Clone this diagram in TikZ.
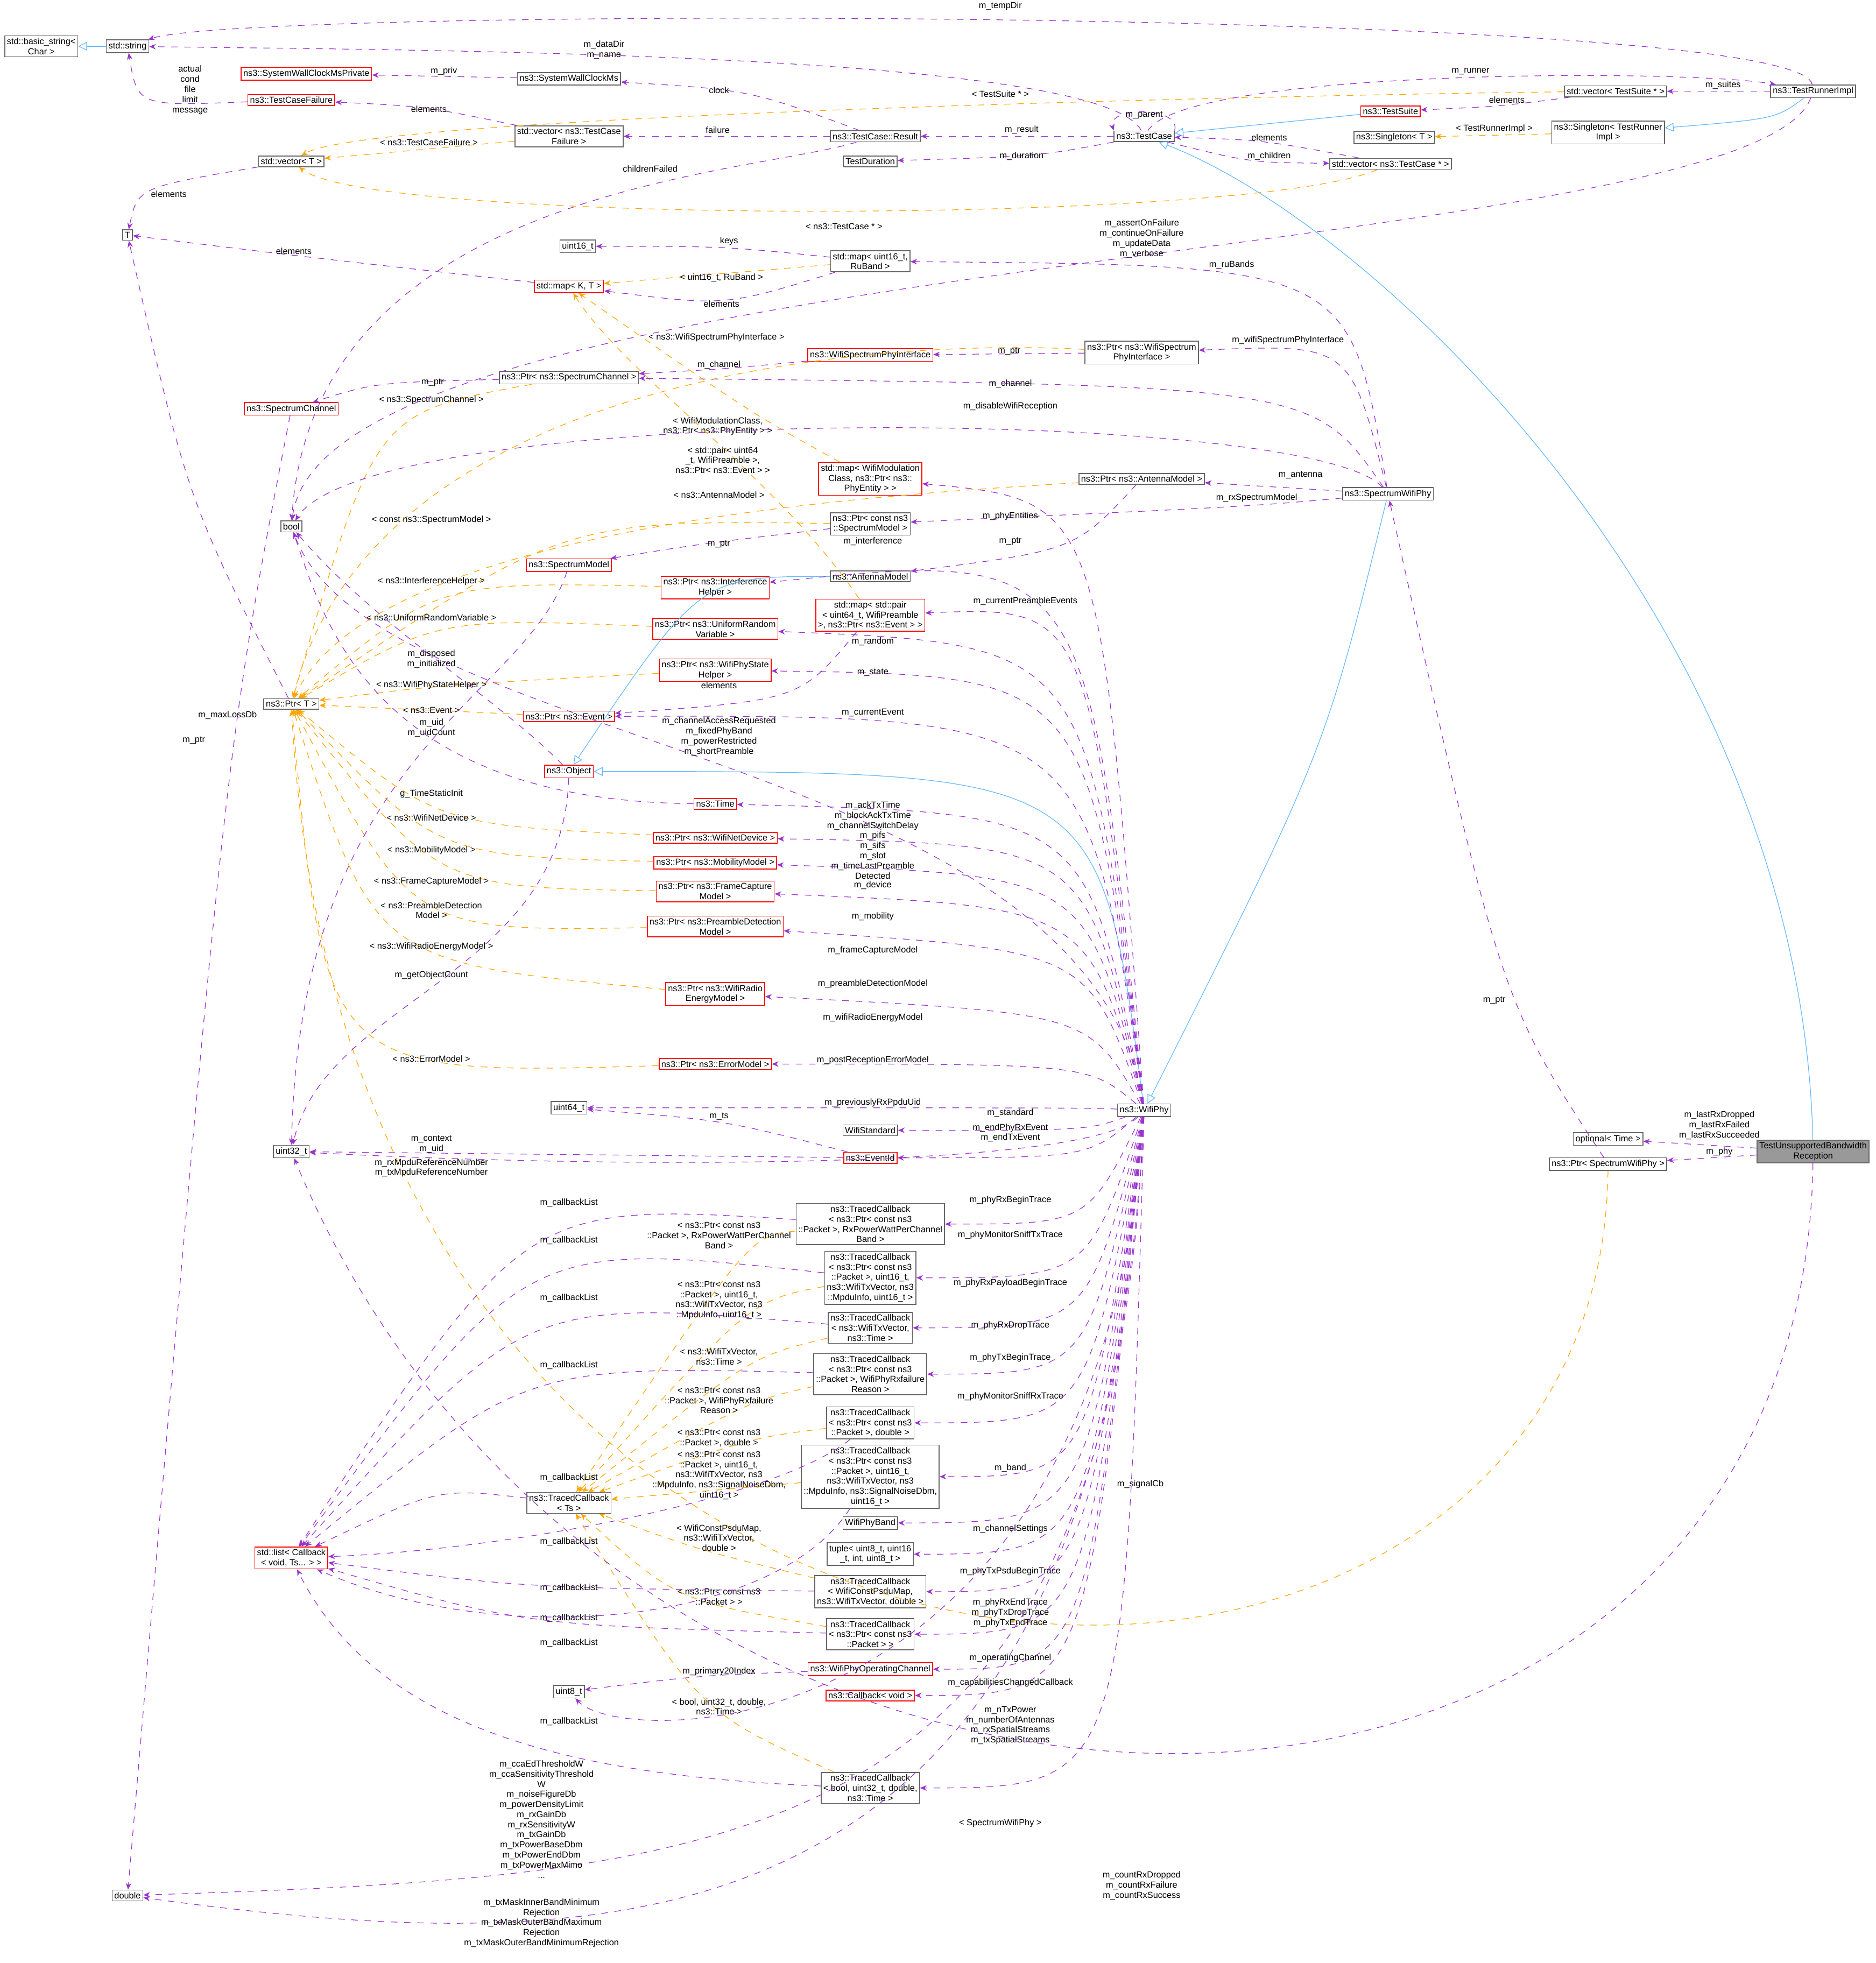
\documentclass[tikz,border=0pt]{standalone}
\usepackage{fontspec}
\setmainfont{Liberation Sans}
\usetikzlibrary{arrows.meta}
\definecolor{memcol}{HTML}{9A32CD}
\definecolor{inhcol}{HTML}{63B8FF}
\definecolor{tplcol}{HTML}{FFA500}
\begin{document}
\begin{tikzpicture}
    [%%%%%%%%%%%%%%%%%%%%%%%%%%%%%%
        x=0.02cm, y=-0.02cm,
        box/.style={rectangle,draw=black!60,fill=white,inner sep=1pt,align=center,font=\fontsize{4}{4.6}\selectfont},
        redbox/.style={box,draw=red},
        lbl/.style={inner sep=0.3pt,align=center,font=\fontsize{4}{4.6}\selectfont},
        mem/.style={draw=memcol,dashed,line width=0.3pt,-{Stealth[length=3pt,width=2.5pt]}},
        inh/.style={draw=inhcol,line width=0.3pt,-{Triangle[open,length=4pt,width=4pt]}},
        tpl/.style={draw=tplcol,dashed,line width=0.3pt,-{Stealth[length=3pt,width=2.5pt]}},
    ]%%%%%%%%%%%%%%%%%%%%%%%%%%%%%%
\useasboundingbox (0,0) rectangle (1500,1570);
% nodes
\node[box] (bstr) at (33,37) {std::basic\_string<\\Char >};
\node[box] (stdstring) at (102,37) {std::string};
\node[redbox] (sysclkpriv) at (245,59) {ns3::SystemWallClockMsPrivate};
\node[box] (sysclk) at (455,63) {ns3::SystemWallClockMs};
\node[redbox] (tcfail) at (233,80) {ns3::TestCaseFailure};
\node[box] (vecfail) at (455,109) {std::vector< ns3::TestCase\\Failure >};
\node[box] (vecT) at (233,129) {std::vector< T >};
\node[box] (tcresult) at (700,109) {ns3::TestCase::Result};
\node[box] (testduration) at (696,129) {TestDuration};
\node[box] (testcase) at (915,109) {ns3::TestCase};
\node[box] (vecsuite) at (1292,73) {std::vector< TestSuite * >};
\node[redbox] (testsuite) at (1112,89) {ns3::TestSuite};
\node[box] (singT) at (1115,110) {ns3::Singleton< T >};
\node[box] (singRunner) at (1286,106) {ns3::Singleton< TestRunner\\Impl >};
\node[box] (vecTC) at (1112,131) {std::vector< ns3::TestCase * >};
\node[box] (runnerimpl) at (1450,73) {ns3::TestRunnerImpl};
\node[box] (T) at (102,188) {T};
\node[box] (uint16) at (462,197) {uint16\_t};
\node[box] (mapRu) at (696,209) {std::map< uint16\_t,\\ RuBand >};
\node[redbox] (mapKT) at (455,229) {std::map< K, T >};
\node[box] (ptrWSPI) at (913,282) {ns3::Ptr< ns3::WifiSpectrum\\PhyInterface >};
\node[redbox] (wspi) at (696,284) {ns3::WifiSpectrumPhyInterface};
\node[box] (ptrSC) at (455,302) {ns3::Ptr< ns3::SpectrumChannel >};
\node[redbox] (spectrumChannel) at (233,327) {ns3::SpectrumChannel};
\node[box] (bool) at (233,421) {bool};
\node[redbox] (mapMod) at (696,383) {std::map< WifiModulation\\Class, ns3::Ptr< ns3::\\PhyEntity > >};
\node[box] (ptrAM) at (913,383) {ns3::Ptr< ns3::AntennaModel >};
\node[box] (swphy) at (1110,395) {ns3::SpectrumWifiPhy};
\node[box] (ptrSM) at (696,419) {ns3::Ptr< const ns3\\::SpectrumModel >};
\node[redbox] (sm) at (455,452) {ns3::SpectrumModel};
\node[redbox] (ptrIH) at (572,470) {ns3::Ptr< ns3::Interference\\Helper >};
\node[box] (am) at (696,461) {ns3::AntennaModel};
\node[redbox] (mapPair) at (696,492) {std::map< std::pair\\< uint64\_t, WifiPreamble\\>, ns3::Ptr< ns3::Event > >};
\node[redbox] (ptrURV) at (572,503) {ns3::Ptr< ns3::UniformRandom\\Variable >};
\node[redbox] (ptrWSH) at (572,536) {ns3::Ptr< ns3::WifiPhyState\\Helper >};
\node[box] (ptrT) at (233,563) {ns3::Ptr< T >};
\node[redbox] (ptrEvent) at (455,573) {ns3::Ptr< ns3::Event >};
\node[redbox] (object) at (455,617) {ns3::Object};
\node[redbox] (time) at (572,643) {ns3::Time};
\node[redbox] (ptrND) at (572,670) {ns3::Ptr< ns3::WifiNetDevice >};
\node[redbox] (ptrMM) at (572,690) {ns3::Ptr< ns3::MobilityModel >};
\node[redbox] (ptrFCM) at (572,713) {ns3::Ptr< ns3::FrameCapture\\Model >};
\node[redbox] (ptrPDM) at (572,741) {ns3::Ptr< ns3::PreambleDetection\\Model >};
\node[redbox] (ptrREM) at (572,795) {ns3::Ptr< ns3::WifiRadio\\EnergyModel >};
\node[redbox] (ptrEM) at (572,851) {ns3::Ptr< ns3::ErrorModel >};
\node[box] (wifiphy) at (915,888) {ns3::WifiPhy};
\node[box] (uint64) at (455,886) {uint64\_t};
\node[box] (wstd) at (696,904) {WifiStandard};
\node[redbox] (eventid) at (696,926) {ns3::EventId};
\node[box] (uint32) at (233,921) {uint32\_t};
\node[box] (tc1) at (696,979) {ns3::TracedCallback\\< ns3::Ptr< const ns3\\::Packet >, RxPowerWattPerChannel\\Band >};
\node[box] (tc2) at (696,1022) {ns3::TracedCallback\\< ns3::Ptr< const ns3\\::Packet >, uint16\_t,\\ ns3::WifiTxVector, ns3\\::MpduInfo, uint16\_t >};
\node[box] (tc3) at (696,1062) {ns3::TracedCallback\\< ns3::WifiTxVector,\\ ns3::Time >};
\node[box] (tc4) at (696,1099) {ns3::TracedCallback\\< ns3::Ptr< const ns3\\::Packet >, WifiPhyRxfailure\\Reason >};
\node[box] (tc5) at (696,1138) {ns3::TracedCallback\\< ns3::Ptr< const ns3\\::Packet >, double >};
\node[box] (tc6) at (696,1181) {ns3::TracedCallback\\< ns3::Ptr< const ns3\\::Packet >, uint16\_t,\\ ns3::WifiTxVector, ns3\\::MpduInfo, ns3::SignalNoiseDbm,\\ uint16\_t >};
\node[box] (wband) at (696,1218) {WifiPhyBand};
\node[box] (tuple) at (696,1243) {tuple< uint8\_t, uint16\\\_t, int, uint8\_t >};
\node[box] (tc7) at (696,1273) {ns3::TracedCallback\\< WifiConstPsduMap,\\ ns3::WifiTxVector, double >};
\node[box] (tc8) at (696,1307) {ns3::TracedCallback\\< ns3::Ptr< const ns3\\::Packet > >};
\node[box] (tcTs) at (455,1202) {ns3::TracedCallback\\< Ts >};
\node[redbox] (list) at (233,1246) {std::list< Callback\\< void, Ts... > >};
\node[redbox] (wpoc) at (696,1335) {ns3::WifiPhyOperatingChannel};
\node[box] (uint8) at (455,1353) {uint8\_t};
\node[redbox] (cbvoid) at (696,1356) {ns3::Callback< void >};
\node[box] (tc9) at (696,1430) {ns3::TracedCallback\\< bool, uint32\_t, double,\\ ns3::Time >};
\node[box] (double) at (102,1516) {double};
\node[box] (optTime) at (1286,911) {optional< Time >};
\node[box] (ptrSWP) at (1286,931) {ns3::Ptr< SpectrumWifiPhy >};
\node[box,fill=black!40] (main) at (1450,921) {TestUnsupportedBandwidth\\Reception};
% inheritance
\draw[inh] (stdstring) -- (bstr);
\draw[inh] (testsuite) -- (testcase);
\draw[inh] (runnerimpl) .. controls (1420,95) .. (singRunner);
\draw[inh] (main) .. controls (1440,500) and (1100,180) .. (testcase);
\draw[inh] (swphy) .. controls (1060,600) .. (wifiphy);
\draw[inh] (wifiphy) .. controls (880,617) .. (object);
\draw[inh] (am) .. controls (560,461) .. (object);
% templates
\draw[tpl] (vecsuite) .. controls (1100,75) and (300,90) .. (vecT) node[lbl,at={(800,75)}] {< TestSuite * >};
\draw[tpl] (vecfail) -- (vecT) node[lbl,at={(343,114)}] {< ns3::TestCaseFailure >};
\draw[tpl] (vecTC) .. controls (1000,180) and (300,180) .. (vecT) node[lbl,at={(675,181)}] {< ns3::TestCase * >};
\draw[tpl] (singRunner) -- (singT) node[lbl,at={(1195,103)}] {< TestRunnerImpl >};
\draw[tpl] (mapRu) -- (mapKT) node[lbl,at={(577,222)}] {< uint16\_t, RuBand >};
\draw[tpl] (mapMod) .. controls (600,330) .. (mapKT) node[lbl,at={(574,341)}] {< WifiModulationClass,\\ ns3::Ptr< ns3::PhyEntity > >};
\draw[tpl] (mapPair) .. controls (620,380) and (500,300) .. (mapKT) node[lbl,at={(578,368)}] {< std::pair< uint64\\\_t, WifiPreamble >,\\ ns3::Ptr< ns3::Event > >};
\draw[tpl] (ptrWSPI) .. controls (700,270) and (300,300) .. (ptrT) node[lbl,at={(573,270)}] {< ns3::WifiSpectrumPhyInterface >};
\draw[tpl] (ptrSC) .. controls (300,330) .. (ptrT) node[lbl,at={(345,320)}] {< ns3::SpectrumChannel >};
\draw[tpl] (ptrAM) .. controls (700,396) and (300,420) .. (ptrT) node[lbl,at={(575,396)}] {< ns3::AntennaModel >};
\draw[tpl] (ptrSM) .. controls (450,416) .. (ptrT) node[lbl,at={(345,416)}] {< const ns3::SpectrumModel >};
\draw[tpl] (ptrIH) .. controls (350,465) .. (ptrT) node[lbl,at={(345,465)}] {< ns3::InterferenceHelper >};
\draw[tpl] (ptrURV) .. controls (350,494) .. (ptrT) node[lbl,at={(345,494)}] {< ns3::UniformRandomVariable >};
\draw[tpl] (ptrWSH) .. controls (350,548) .. (ptrT) node[lbl,at={(345,548)}] {< ns3::WifiPhyStateHelper >};
\draw[tpl] (ptrEvent) -- (ptrT) node[lbl,at={(345,568)}] {< ns3::Event >};
\draw[tpl] (ptrND) .. controls (350,660) .. (ptrT) node[lbl,at={(345,654)}] {< ns3::WifiNetDevice >};
\draw[tpl] (ptrMM) .. controls (350,685) .. (ptrT) node[lbl,at={(345,680)}] {< ns3::MobilityModel >};
\draw[tpl] (ptrFCM) .. controls (350,710) .. (ptrT) node[lbl,at={(345,705)}] {< ns3::FrameCaptureModel >};
\draw[tpl] (ptrPDM) .. controls (330,745) .. (ptrT) node[lbl,at={(345,728)}] {< ns3::PreambleDetection\\Model >};
\draw[tpl] (ptrREM) .. controls (300,770) .. (ptrT) node[lbl,at={(345,757)}] {< ns3::WifiRadioEnergyModel >};
\draw[tpl] (ptrEM) .. controls (260,860) .. (ptrT) node[lbl,at={(345,847)}] {< ns3::ErrorModel >};
\draw[tpl] (ptrSWP) .. controls (1280,1470) and (280,1470) .. (ptrT) node[lbl,at={(800,1458)}] {< SpectrumWifiPhy >};
\draw[tpl] (tc1) .. controls (600,988) .. (tcTs) node[lbl,at={(575,988)}] {< ns3::Ptr< const ns3\\::Packet >, RxPowerWattPerChannel\\Band >};
\draw[tpl] (tc2) .. controls (600,1040) .. (tcTs) node[lbl,at={(575,1040)}] {< ns3::Ptr< const ns3\\::Packet >, uint16\_t,\\ ns3::WifiTxVector, ns3\\::MpduInfo, uint16\_t >};
\draw[tpl] (tc3) .. controls (600,1085) .. (tcTs) node[lbl,at={(575,1085)}] {< ns3::WifiTxVector,\\ ns3::Time >};
\draw[tpl] (tc4) .. controls (600,1120) .. (tcTs) node[lbl,at={(575,1120)}] {< ns3::Ptr< const ns3\\::Packet >, WifiPhyRxfailure\\Reason >};
\draw[tpl] (tc5) .. controls (600,1150) .. (tcTs) node[lbl,at={(575,1150)}] {< ns3::Ptr< const ns3\\::Packet >, double >};
\draw[tpl] (tc6) -- (tcTs) node[lbl,at={(575,1180)}] {< ns3::Ptr< const ns3\\::Packet >, uint16\_t,\\ ns3::WifiTxVector, ns3\\::MpduInfo, ns3::SignalNoiseDbm,\\ uint16\_t >};
\draw[tpl] (tc7) .. controls (560,1240) .. (tcTs) node[lbl,at={(575,1230)}] {< WifiConstPsduMap,\\ ns3::WifiTxVector,\\ double >};
\draw[tpl] (tc8) .. controls (540,1280) .. (tcTs) node[lbl,at={(575,1277)}] {< ns3::Ptr< const ns3\\::Packet > >};
\draw[tpl] (tc9) .. controls (560,1370) .. (tcTs) node[lbl,at={(575,1365)}] {< bool, uint32\_t, double,\\ ns3::Time >};
% members
\draw[mem] (runnerimpl) .. controls (1440,5) and (200,5) .. (stdstring) node[lbl,at={(800,5)}] {m\_tempDir};
\draw[mem] (testcase) .. controls (880,40) and (300,40) .. (stdstring) node[lbl,at={(483,40)}] {m\_dataDir\\m\_name};
\draw[mem] (testcase) .. controls (950,55) and (1350,55) .. (runnerimpl) node[lbl,at={(1176,57)}] {m\_runner};
\draw[mem] (runnerimpl) -- (vecsuite) node[lbl,at={(1378,68)}] {m\_suites};
\draw[mem] (vecsuite) .. controls (1200,85) .. (testsuite) node[lbl,at={(1205,80)}] {elements};
\draw[mem] (testcase.north east) .. controls (945,85) and (885,85) .. (testcase.north west) node[lbl,at={(915,92)}] {m\_parent};
\draw[mem] (testcase) -- (tcresult) node[lbl,at={(817,104)}] {m\_result};
\draw[mem] (testcase) .. controls (830,125) .. (testduration) node[lbl,at={(817,125)}] {m\_duration};
\draw[mem] (testcase) .. controls (1000,130) .. (vecTC) node[lbl,at={(1015,125)}] {m\_children};
\draw[mem] (vecTC) .. controls (1010,112) .. (testcase) node[lbl,at={(1015,110)}] {elements};
\draw[mem] (tcresult) .. controls (600,72) .. (sysclk) node[lbl,at={(575,72)}] {clock};
\draw[mem] (tcresult) -- (vecfail) node[lbl,at={(574,104)}] {failure};
\draw[mem] (tcresult) .. controls (600,140) and (250,150) .. (bool) node[lbl,at={(520,135)}] {childrenFailed};
\draw[mem] (sysclk) -- (sysclkpriv) node[lbl,at={(355,57)}] {m\_priv};
\draw[mem] (vecfail) .. controls (340,85) .. (tcfail) node[lbl,at={(343,87)}] {elements};
\draw[mem] (tcfail) .. controls (110,85) .. (stdstring) node[lbl,at={(152,72)}] {actual\\cond\\file\\limit\\message};
\draw[mem] (vecT) .. controls (110,150) .. (T) node[lbl,at={(135,155)}] {elements};
\draw[mem] (runnerimpl) .. controls (1400,210) and (260,200) .. (bool) node[lbl,at={(913,191)}] {m\_assertOnFailure\\m\_continueOnFailure\\m\_updateData\\m\_verbose};
\draw[mem] (mapRu) .. controls (580,197) .. (uint16) node[lbl,at={(583,193)}] {keys};
\draw[mem] (mapRu) .. controls (580,245) .. (mapKT) node[lbl,at={(577,243)}] {elements};
\draw[mem] (mapKT) .. controls (240,205) .. (T) node[lbl,at={(235,201)}] {elements};
\draw[mem] (swphy) .. controls (1080,212) .. (mapRu) node[lbl,at={(985,212)}] {m\_ruBands};
\draw[mem] (swphy) .. controls (1080,275) .. (ptrWSPI) node[lbl,at={(1030,272)}] {m\_wifiSpectrumPhyInterface};
\draw[mem] (ptrWSPI) -- (wspi) node[lbl,at={(807,281)}] {m\_ptr};
\draw[mem] (wspi) .. controls (580,295) .. (ptrSC) node[lbl,at={(575,292)}] {m\_channel};
\draw[mem] (swphy) .. controls (1050,308) .. (ptrSC) node[lbl,at={(808,307)}] {m\_channel};
\draw[mem] (ptrSC) .. controls (300,306) .. (spectrumChannel) node[lbl,at={(346,306)}] {m\_ptr};
\draw[mem] (swphy) .. controls (1050,325) and (300,320) .. (bool) node[lbl,at={(808,325)}] {m\_disableWifiReception};
\draw[mem] (swphy) -- (ptrAM) node[lbl,at={(1040,380)}] {m\_antenna};
\draw[mem] (swphy) .. controls (1000,405) .. (ptrSM) node[lbl,at={(1005,398)}] {m\_rxSpectrumModel};
\draw[mem] (ptrSM) .. controls (560,435) .. (sm) node[lbl,at={(575,435)}] {m\_ptr};
\draw[mem] (ptrAM) .. controls (860,440) .. (am) node[lbl,at={(808,433)}] {m\_ptr};
\draw[mem] (sm) .. controls (420,560) and (240,600) .. (uint32) node[lbl,at={(345,582)}] {m\_uid\\m\_uidCount};
\draw[mem] (object) .. controls (400,560) and (300,500) .. (bool) node[lbl,at={(345,527)}] {m\_disposed\\m\_initialized};
\draw[mem] (object) .. controls (450,780) and (260,800) .. (uint32) node[lbl,at={(345,780)}] {m\_getObjectCount};
\draw[mem] (ptrT) .. controls (150,400) .. (T) node[lbl,at={(155,592)}] {m\_ptr};
\draw[mem] (spectrumChannel) .. controls (180,600) .. (double) node[lbl,at={(182,572)}] {m\_maxLossDb};
\draw[mem] (time) .. controls (300,640) and (260,500) .. (bool) node[lbl,at={(345,635)}] {g\_TimeStaticInit};
\draw[mem] (mapPair) .. controls (640,560) .. (ptrEvent) node[lbl,at={(575,548)}] {elements};
\draw[mem] (wifiphy) .. controls (880,400) .. (mapMod) node[lbl,at={(808,413)}] {m\_phyEntities};
\draw[mem] (wifiphy) .. controls (870,440) .. (ptrIH) node[lbl,at={(698,433)}] {m\_interference};
\draw[mem] (wifiphy) .. controls (870,485) .. (mapPair) node[lbl,at={(820,481)}] {m\_currentPreambleEvents};
\draw[mem] (wifiphy) .. controls (870,515) .. (ptrURV) node[lbl,at={(698,513)}] {m\_random};
\draw[mem] (wifiphy) .. controls (870,540) .. (ptrWSH) node[lbl,at={(698,538)}] {m\_state};
\draw[mem] (wifiphy) .. controls (870,572) .. (ptrEvent) node[lbl,at={(698,570)}] {m\_currentEvent};
\draw[mem] (wifiphy) .. controls (870,600) and (300,600) .. (bool) node[lbl,at={(575,589)}] {m\_channelAccessRequested\\m\_fixedPhyBand\\m\_powerRestricted\\m\_shortPreamble};
\draw[mem] (wifiphy) .. controls (870,650) .. (time) node[lbl,at={(698,672)}] {m\_ackTxTime\\m\_blockAckTxTime\\m\_channelSwitchDelay\\m\_pifs\\m\_sifs\\m\_slot\\m\_timeLastPreamble\\Detected};
\draw[mem] (wifiphy) .. controls (870,675) .. (ptrND) node[lbl,at={(698,708)}] {m\_device};
\draw[mem] (wifiphy) .. controls (870,700) .. (ptrMM) node[lbl,at={(698,733)}] {m\_mobility};
\draw[mem] (wifiphy) .. controls (870,725) .. (ptrFCM) node[lbl,at={(698,760)}] {m\_frameCaptureModel};
\draw[mem] (wifiphy) .. controls (870,760) .. (ptrPDM) node[lbl,at={(698,787)}] {m\_preambleDetectionModel};
\draw[mem] (wifiphy) .. controls (870,810) .. (ptrREM) node[lbl,at={(698,814)}] {m\_wifiRadioEnergyModel};
\draw[mem] (wifiphy) .. controls (870,851) .. (ptrEM) node[lbl,at={(698,848)}] {m\_postReceptionErrorModel};
\draw[mem] (wifiphy) .. controls (870,886) .. (uint64) node[lbl,at={(698,882)}] {m\_previouslyRxPpduUid};
\draw[mem] (eventid) .. controls (580,896) .. (uint64) node[lbl,at={(575,893)}] {m\_ts};
\draw[mem] (wifiphy) .. controls (870,904) .. (wstd) node[lbl,at={(808,890)}] {m\_standard};
\draw[mem] (wifiphy) .. controls (870,926) .. (eventid) node[lbl,at={(808,906)}] {m\_endPhyRxEvent\\m\_endTxEvent};
\draw[mem] (eventid) -- (uint32) node[lbl,at={(345,915)}] {m\_context\\m\_uid};
\draw[mem] (wifiphy) .. controls (870,935) and (500,935) .. (uint32) node[lbl,at={(345,934)}] {m\_rxMpduReferenceNumber\\m\_txMpduReferenceNumber};
\draw[mem] (wifiphy) .. controls (870,979) .. (tc1) node[lbl,at={(808,960)}] {m\_phyRxBeginTrace};
\draw[mem] (wifiphy) .. controls (870,1022) .. (tc2) node[lbl,at={(808,988)}] {m\_phyMonitorSniffTxTrace};
\draw[mem] (wifiphy) .. controls (870,1062) .. (tc3) node[lbl,at={(808,1026)}] {m\_phyRxPayloadBeginTrace};
\draw[mem] (wifiphy) .. controls (870,1099) .. (tc4) node[lbl,at={(808,1060)}] {m\_phyRxDropTrace};
\draw[mem] (wifiphy) .. controls (870,1138) .. (tc5) node[lbl,at={(808,1086)}] {m\_phyTxBeginTrace};
\draw[mem] (wifiphy) .. controls (870,1181) .. (tc6) node[lbl,at={(808,1117)}] {m\_phyMonitorSniffRxTrace};
\draw[mem] (wifiphy) .. controls (870,1218) .. (wband) node[lbl,at={(808,1174)}] {m\_band};
\draw[mem] (wifiphy) .. controls (870,1243) .. (tuple) node[lbl,at={(808,1223)}] {m\_channelSettings};
\draw[mem] (wifiphy) .. controls (870,1273) .. (tc7) node[lbl,at={(808,1257)}] {m\_phyTxPsduBeginTrace};
\draw[mem] (wifiphy) .. controls (870,1307) .. (tc8) node[lbl,at={(808,1290)}] {m\_phyRxEndTrace\\m\_phyTxDropTrace\\m\_phyTxEndTrace};
\draw[mem] (wifiphy) .. controls (870,1335) .. (wpoc) node[lbl,at={(808,1326)}] {m\_operatingChannel};
\draw[mem] (wifiphy) .. controls (870,1356) .. (cbvoid) node[lbl,at={(808,1346)}] {m\_capabilitiesChangedCallback};
\draw[mem] (wifiphy) .. controls (880,1400) and (500,1400) .. (uint8) node[lbl,at={(808,1380)}] {m\_nTxPower\\m\_numberOfAntennas\\m\_rxSpatialStreams\\m\_txSpatialStreams};
\draw[mem] (wifiphy) .. controls (900,1430) .. (tc9) node[lbl,at={(912,1187)}] {m\_signalCb};
\draw[mem] (wpoc) .. controls (560,1340) .. (uint8) node[lbl,at={(575,1337)}] {m\_primary20Index};
\draw[mem] (wifiphy) .. controls (890,1480) and (600,1500) .. (double) node[lbl,at={(433,1455)}] {m\_ccaEdThresholdW\\m\_ccaSensitivityThreshold\\W\\m\_noiseFigureDb\\m\_powerDensityLimit\\m\_rxGainDb\\m\_rxSensitivityW\\m\_txGainDb\\m\_txPowerBaseDbm\\m\_txPowerEndDbm\\m\_txPowerMaxMimo\\...};
\draw[mem] (wifiphy) .. controls (880,1570) and (500,1570) .. (double) node[lbl,at={(433,1538)}] {m\_txMaskInnerBandMinimum\\Rejection\\m\_txMaskOuterBandMaximum\\Rejection\\m\_txMaskOuterBandMinimumRejection};
\draw[mem] (tc1) .. controls (420,962) .. (list) node[lbl,at={(455,962)}] {m\_callbackList};
\draw[mem] (tc2) .. controls (420,992) .. (list) node[lbl,at={(455,992)}] {m\_callbackList};
\draw[mem] (tc3) .. controls (420,1038) .. (list) node[lbl,at={(455,1038)}] {m\_callbackList};
\draw[mem] (tc4) .. controls (420,1092) .. (list) node[lbl,at={(455,1092)}] {m\_callbackList};
\draw[mem] (tcTs) .. controls (350,1190) .. (list) node[lbl,at={(455,1182)}] {m\_callbackList};
\draw[mem] (tc5) .. controls (620,1200) and (400,1240) .. (list) node[lbl,at={(455,1233)}] {m\_callbackList};
\draw[mem] (tc7) .. controls (420,1270) .. (list) node[lbl,at={(455,1270)}] {m\_callbackList};
\draw[mem] (tc8) .. controls (420,1300) .. (list) node[lbl,at={(455,1294)}] {m\_callbackList};
\draw[mem] (tc6) .. controls (620,1300) and (400,1320) .. (list) node[lbl,at={(455,1314)}] {m\_callbackList};
\draw[mem] (tc9) .. controls (450,1420) and (300,1380) .. (list) node[lbl,at={(455,1377)}] {m\_callbackList};
\draw[mem] (main) -- (optTime) node[lbl,at={(1375,900)}] {m\_lastRxDropped\\m\_lastRxFailed\\m\_lastRxSucceeded};
\draw[mem] (main) -- (ptrSWP) node[lbl,at={(1375,921)}] {m\_phy};
\draw[mem] (ptrSWP) .. controls (1200,800) .. (swphy) node[lbl,at={(1195,800)}] {m\_ptr};
\draw[mem] (main) .. controls (1440,1560) and (500,1560) .. (uint32) node[lbl,at={(913,1508)}] {m\_countRxDropped\\m\_countRxFailure\\m\_countRxSuccess};
\end{tikzpicture}
\end{document}
